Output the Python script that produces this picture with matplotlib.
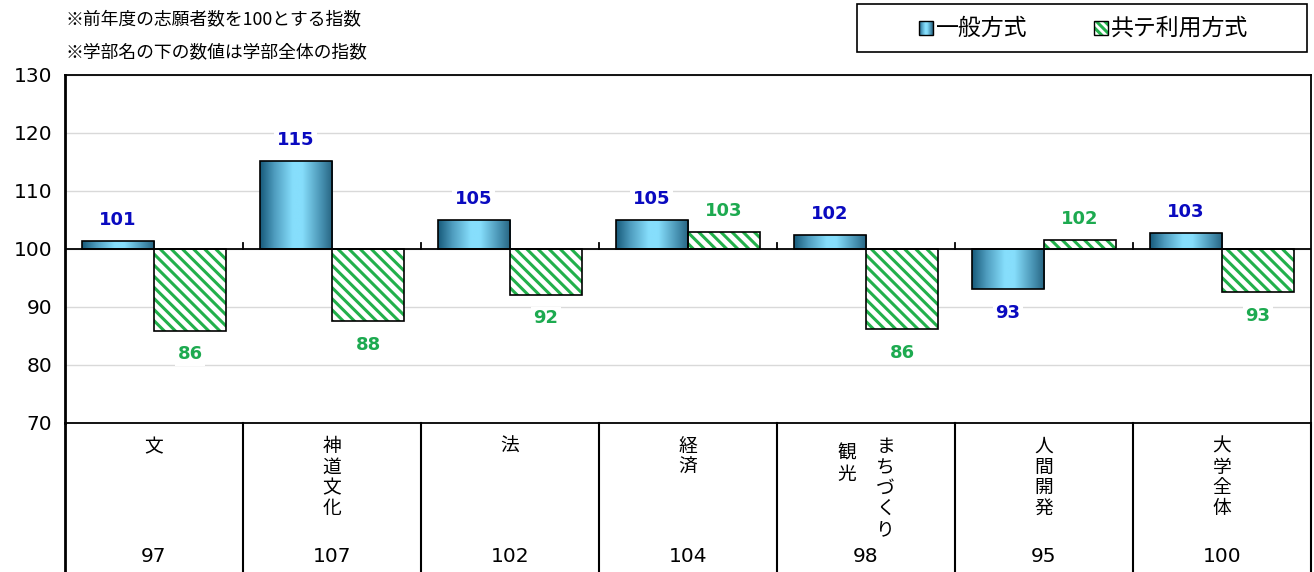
import matplotlib
matplotlib.use("Agg")
import matplotlib.pyplot as plt
import numpy as np
from matplotlib.colors import LinearSegmentedColormap
from matplotlib.patches import Rectangle
import matplotlib.transforms as mtransforms

plt.rcParams['font.family'] = ['DejaVu Sans', 'Noto Sans CJK JP']
plt.rcParams['hatch.linewidth'] = 2.2

categories = ['文', '神道文化', '法', '経済', 'まちづくり観光', '人間開発', '大学全体']
category_index = [97, 107, 102, 104, 98, 95, 100]
general = [101.4, 115.2, 105.0, 105.0, 102.4, 93.1, 102.8]
kyotesu = [85.9, 87.6, 92.1, 102.9, 86.2, 101.6, 92.6]
general_labels = ['101', '115', '105', '105', '102', '93', '103']
kyotesu_labels = ['86', '88', '92', '103', '86', '102', '93']
series_names = ['一般方式', '共テ利用方式']
notes = ['※前年度の志願者数を100とする指数', '※学部名の下の数値は学部全体の指数']
yticks = [70, 80, 90, 100, 110, 120, 130]

base = 100
GREEN_HATCH = '#22B04B'
W, H = 1314, 572
fig = plt.figure(figsize=(W / 100, H / 100), dpi=100)
ax = fig.add_axes([65 / W, 1 - 423 / H, (1311 - 65) / W, (423 - 75) / H])

n = len(categories)
x = np.arange(n)
bw = 0.405

grad_cmap = LinearSegmentedColormap.from_list(
    'cyl', [(0, '#175A7A'), (0.2, '#4F9DBF'), (0.45, '#86DEFC'), (0.58, '#86DEFC'),
            (0.85, '#4690B0'), (1, '#26627F')])
grad = np.linspace(0, 1, 256).reshape(1, -1)

for i in range(n):
    g = general[i]
    bars = ax.bar(x[i] - bw / 2, g - base, bw, bottom=base, color='none',
                  edgecolor='black', linewidth=1.2, zorder=4)
    r = bars.patches[0]
    im = ax.imshow(grad, cmap=grad_cmap, aspect='auto',
                   extent=[x[i] - bw, x[i], min(g, base), max(g, base)],
                   zorder=3, interpolation='bilinear')
    im.set_clip_path(r)
    k = kyotesu[i]
    ax.bar(x[i] + bw / 2, k - base, bw, bottom=base, color='white',
           edgecolor=GREEN_HATCH, hatch='\\\\\\', linewidth=0, zorder=3)
    ax.bar(x[i] + bw / 2, k - base, bw, bottom=base, color='none',
           edgecolor='black', linewidth=1.2, zorder=4)

    off_g = 15 if g >= base else -17
    ax.annotate(general_labels[i], (x[i] - bw / 2, g), xytext=(0, off_g),
                textcoords='offset points', ha='center', va='center',
                fontsize=13, fontweight='bold', color='#0A0AC0',
                bbox=dict(boxstyle='square,pad=0.15', fc='white', ec='none'), zorder=6)
    off_k = 15 if k >= base else -17
    ax.annotate(kyotesu_labels[i], (x[i] + bw / 2, k), xytext=(0, off_k),
                textcoords='offset points', ha='center', va='center',
                fontsize=13, fontweight='bold', color='#1DAA50',
                bbox=dict(boxstyle='square,pad=0.15', fc='white', ec='none'), zorder=6)

ax.axhline(base, color='black', linewidth=1.3, zorder=5)
for b in np.arange(-0.5, n, 1.0)[1:-1]:
    ax.plot([b, b], [base, base + 1.1], color='black', linewidth=1.3, zorder=5)

ax.set_xlim(-0.5, n - 0.5)
ax.set_ylim(70, 130)
ax.set_yticks(yticks)
ax.set_yticklabels([str(t) for t in yticks], fontsize=14.5)
ax.tick_params(axis='y', length=0, pad=9)
ax.set_xticks([])
ax.grid(axis='y', color='#D9D9D9', linewidth=1, zorder=0)
ax.set_axisbelow(True)
for s in ['top', 'right', 'bottom']:
    ax.spines[s].set_linewidth(1.3)
ax.spines['left'].set_linewidth(2)

# table below
trans = mtransforms.blended_transform_factory(ax.transData, ax.transAxes)
bot = -(572 - 423) / (423 - 75)
for b in np.arange(-0.5, n + 0.5, 1.0):
    lw = 2 if b == -0.5 else 1.5
    ax.plot([b, b], [0, bot], transform=trans, color='black', linewidth=lw, clip_on=False)

ytop = -(436 - 423) / 348
ynum = -(557 - 423) / 348
jp = ['Noto Sans CJK JP']
for i, c in enumerate(categories):
    if c == 'まちづくり観光':
        ax.text(x[i] + 0.11, ytop, '\n'.join('まちづくり'), transform=trans, ha='center',
                va='top', fontsize=13.5, linespacing=0.98, family=jp)
        ax.text(x[i] - 0.11, -(443 - 423) / 348, '\n'.join('観光'), transform=trans,
                ha='center', va='top', fontsize=13.5, linespacing=0.98, family=jp)
    else:
        ax.text(x[i], ytop, '\n'.join(c), transform=trans, ha='center', va='top',
                fontsize=13.5, linespacing=0.98, family=jp)
    ax.text(x[i], ynum, str(category_index[i]), transform=trans, ha='center',
            va='center', fontsize=14.5)

# notes
fig.text(65 / W, 1 - 20 / H, notes[0], fontsize=12.8, va='center', family=jp)
fig.text(65 / W, 1 - 52 / H, notes[1], fontsize=12.8, va='center', family=jp)

# legend (drawn manually)
fig.patches.append(Rectangle((857 / W, 1 - 52 / H), (1307 - 857) / W, 48 / H,
                             transform=fig.transFigure, fc='white', ec='black', lw=1.2))
sq = 14
ly = 28
x0 = 919
nstep = 14
for j in range(nstep):
    fig.patches.append(Rectangle(((x0 + sq * j / nstep) / W, 1 - (ly + sq / 2) / H),
                                 sq / nstep / W, sq / H, transform=fig.transFigure,
                                 fc=grad_cmap((j + 0.5) / nstep), ec='none'))
fig.patches.append(Rectangle((x0 / W, 1 - (ly + sq / 2) / H), sq / W, sq / H,
                             transform=fig.transFigure, fc='none', ec='black', lw=1))
fig.text((x0 + sq + 3) / W, 1 - ly / H, series_names[0], fontsize=16.5, va='center',
         family=jp)
x1 = 1094
fig.patches.append(Rectangle((x1 / W, 1 - (ly + sq / 2) / H), sq / W, sq / H,
                             transform=fig.transFigure, fc='white', ec=GREEN_HATCH, lw=0,
                             hatch='\\\\\\\\'))
fig.patches.append(Rectangle((x1 / W, 1 - (ly + sq / 2) / H), sq / W, sq / H,
                             transform=fig.transFigure, fc='none', ec='black', lw=1))
fig.text((x1 + sq + 3) / W, 1 - ly / H, series_names[1], fontsize=16.5, va='center',
         family=jp)

fig.savefig('out.png', dpi=100)
